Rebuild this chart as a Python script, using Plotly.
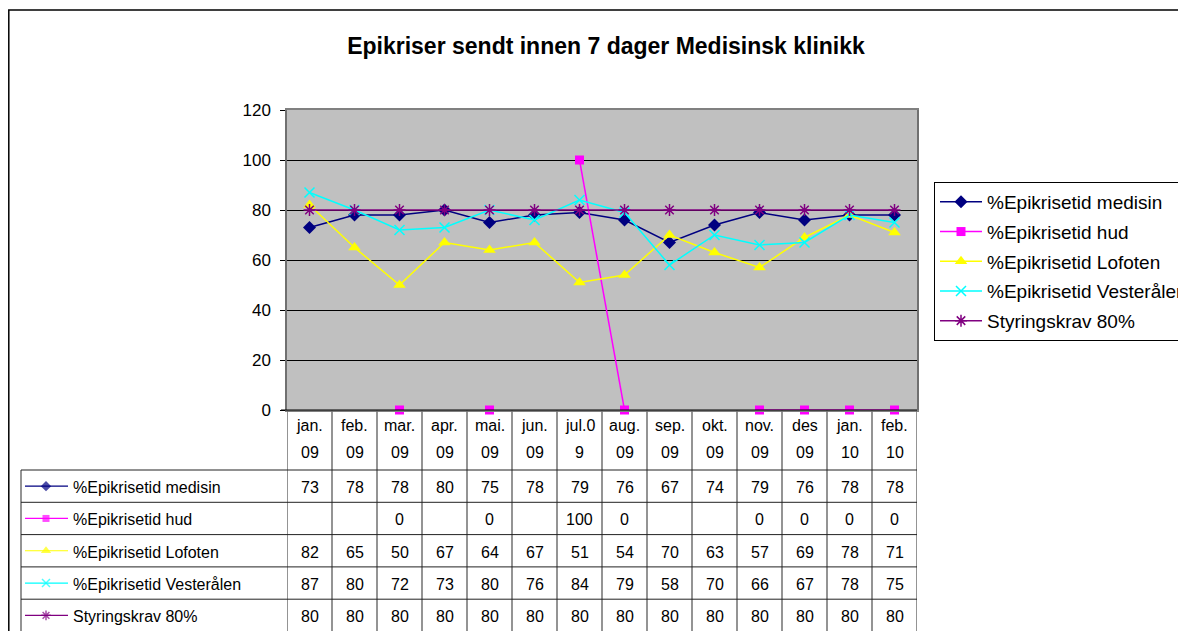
import plotly.graph_objects as go

# ---------------- data ----------------
months = ["jan. 09", "feb. 09", "mar. 09", "apr. 09", "mai. 09", "jun. 09", "jul.0 9",
          "aug. 09", "sep. 09", "okt. 09", "nov. 09", "des 09", "jan. 10", "feb. 10"]
month_top = ["jan.", "feb.", "mar.", "apr.", "mai.", "jun.", "jul.0",
             "aug.", "sep.", "okt.", "nov.", "des", "jan.", "feb."]
month_bottom = ["09", "09", "09", "09", "09", "09", "9",
                "09", "09", "09", "09", "09", "10", "10"]

medisin = [73, 78, 78, 80, 75, 78, 79, 76, 67, 74, 79, 76, 78, 78]
hud = [None, None, 0, None, 0, None, 100, 0, None, None, 0, 0, 0, 0]
lofoten = [82, 65, 50, 67, 64, 67, 51, 54, 70, 63, 57, 69, 78, 71]
vesteralen = [87, 80, 72, 73, 80, 76, 84, 79, 58, 70, 66, 67, 78, 75]
styring = [80, 80, 80, 80, 80, 80, 80, 80, 80, 80, 80, 80, 80, 80]

series_names = ["%Epikrisetid medisin", "%Epikrisetid hud", "%Epikrisetid Lofoten",
                "%Epikrisetid Vesterålen", "Styringskrav 80%"]
series_values = [medisin, hud, lofoten, vesteralen, styring]

y_ticks = [0, 20, 40, 60, 80, 100, 120]

# ---------------- styles / layout geometry (page pixels) ----------------
OX, OY = 8, 8                 # page body margin
W, H = 1178, 623              # figure size
FONT = "Arial, Liberation Sans, sans-serif"
styles = [
    dict(color="#000080", symbol="diamond", size=10, lw=0),
    dict(color="#FF00FF", symbol="square", size=9, lw=0),
    dict(color="#FFFF00", symbol="triangle-up", size=11, lw=0),
    dict(color="#00FFFF", symbol="x-thin-open", size=10, lw=1.5),
    dict(color="#800080", symbol="asterisk-open", size=10, lw=1.5),
]

PL, PR, PT, PB = 287, 917, 110, 410  # plot area, page pixels
TL = 21                               # table left edge
ROW0 = 470                            # first data row top
RH = 32.3                             # row height
TXT_DY = 1.5                          # text vertical nudge inside rows


def pxx(x):
    return (x - OX) / W


def pxy(y):
    return 1 - (y - OY) / H


fig = go.Figure()

# main series
for name, vals, st in zip(series_names, series_values, styles):
    fig.add_trace(go.Scatter(
        x=months, y=vals, name=name, mode="lines+markers",
        line=dict(color=st["color"], width=1.5),
        marker=dict(symbol=st["symbol"], size=st["size"], color=st["color"],
                    line=dict(color=st["color"], width=st["lw"])),
        legendgroup=name, xaxis="x", yaxis="y", cliponaxis=False,
    ))

# legend keys inside the data table (pixel overlay axes)
for i, (name, st) in enumerate(zip(series_names, styles)):
    yc = ROW0 + RH * (i + 0.5)
    fig.add_trace(go.Scatter(
        x=[25, 46, 68], y=[yc, yc, yc], mode="lines+markers", showlegend=False,
        line=dict(color=st["color"], width=1.2),
        marker=dict(symbol=st["symbol"], size=[0, st["size"] - 2, 0], color=st["color"],
                    line=dict(color=st["color"], width=st["lw"])),
        xaxis="x2", yaxis="y2", hoverinfo="skip",
    ))

shapes = []
annotations = []

# plot background
shapes.append(dict(type="rect", xref="paper", yref="paper",
                   x0=pxx(PL), x1=pxx(PR), y0=pxy(PB), y1=pxy(PT),
                   fillcolor="#C0C0C0", line=dict(width=0), layer="below"))

# outer chart border
shapes.append(dict(type="rect", xref="x2", yref="y2", x0=8.8, x1=1200, y0=10, y1=660,
                   line=dict(color="#000000", width=1.5), fillcolor="rgba(0,0,0,0)"))

n = len(months)
TABLE_BOTTOM = ROW0 + RH * len(series_names)
# vertical lines of the table (category boundaries)
for i in range(n + 1):
    shapes.append(dict(type="line", xref="x", yref="y2", x0=i - 0.5, x1=i - 0.5,
                       y0=PB, y1=TABLE_BOTTOM, line=dict(color="#707070", width=1.5)))
# label column left edge
shapes.append(dict(type="line", xref="x2", yref="y2", x0=TL, x1=TL, y0=ROW0, y1=TABLE_BOTTOM,
                   line=dict(color="#707070", width=1.5)))
# horizontal lines
for r in range(len(series_names) + 1):
    yy = ROW0 + RH * r
    shapes.append(dict(type="line", xref="x2", yref="y2", x0=TL, x1=PR, y0=yy, y1=yy,
                       line=dict(color="#222222", width=1)))
# category axis baseline (black, with small overhang at left)
shapes.append(dict(type="line", xref="x2", yref="y2", x0=PL - 6, x1=PR, y0=PB, y1=PB,
                   line=dict(color="#000000", width=1.2)))

TF = dict(family=FONT, size=16, color="#000")
# header labels
for m, top, bot in zip(months, month_top, month_bottom):
    annotations.append(dict(x=m, xref="x", y=425, yref="y2", text=top, showarrow=False,
                            font=TF, yanchor="middle"))
    annotations.append(dict(x=m, xref="x", y=452, yref="y2", text=bot, showarrow=False,
                            font=TF, yanchor="middle"))

# row labels and values
for r, (name, vals) in enumerate(zip(series_names, series_values)):
    yc = ROW0 + RH * (r + 0.5) + TXT_DY
    annotations.append(dict(x=71, xref="x2", y=yc, yref="y2", text=name, showarrow=False,
                            xanchor="left", yanchor="middle", font=TF))
    for m, v in zip(months, vals):
        if v is None:
            continue
        annotations.append(dict(x=m, xref="x", y=yc, yref="y2", text=str(v), showarrow=False,
                                yanchor="middle", font=TF))

fig.update_layout(
    width=W, height=H, autosize=False,
    margin=dict(l=0, r=0, t=0, b=0, pad=0, autoexpand=False),
    paper_bgcolor="#FFFFFF", plot_bgcolor="rgba(0,0,0,0)",
    font=dict(family=FONT, size=16, color="#000"),
    title=dict(text="<b>Epikriser sendt innen 7 dager Medisinsk klinikk</b>",
               x=pxx(606), y=pxy(46), xanchor="center", yanchor="middle",
               font=dict(family=FONT, size=23, color="#000")),
    xaxis=dict(domain=[pxx(PL), pxx(PR)], anchor="y", type="category",
               categoryorder="array", categoryarray=months,
               range=[-0.5, n - 0.5], showticklabels=False, ticks="", showgrid=False,
               zeroline=False, showline=True, mirror=True, linecolor="#808080", linewidth=1.5),
    yaxis=dict(domain=[pxy(PB), pxy(PT)], anchor="x", range=[0, 120], tickvals=y_ticks,
               ticks="outside", ticklen=5, tickcolor="#000", showgrid=True,
               gridcolor="#000000", gridwidth=1, zeroline=False, showline=True, mirror=True,
               linecolor="#707070", linewidth=1.5, ticklabelstandoff=6,
               tickfont=dict(family=FONT, size=17, color="#000")),
    xaxis2=dict(domain=[0, 1], anchor="y2", range=[OX, OX + W], visible=False, showgrid=False),
    yaxis2=dict(domain=[0, 1], anchor="x2", range=[OY + H, OY], visible=False, showgrid=False),
    legend=dict(x=pxx(934), y=pxy(182), xanchor="left", yanchor="top",
                bordercolor="#000000", borderwidth=1, bgcolor="#FFFFFF",
                font=dict(family=FONT, size=19, color="#000"), tracegroupgap=2,
                itemwidth=42),
    shapes=shapes, annotations=annotations, showlegend=True,
)

fig.write_html("out.html")
